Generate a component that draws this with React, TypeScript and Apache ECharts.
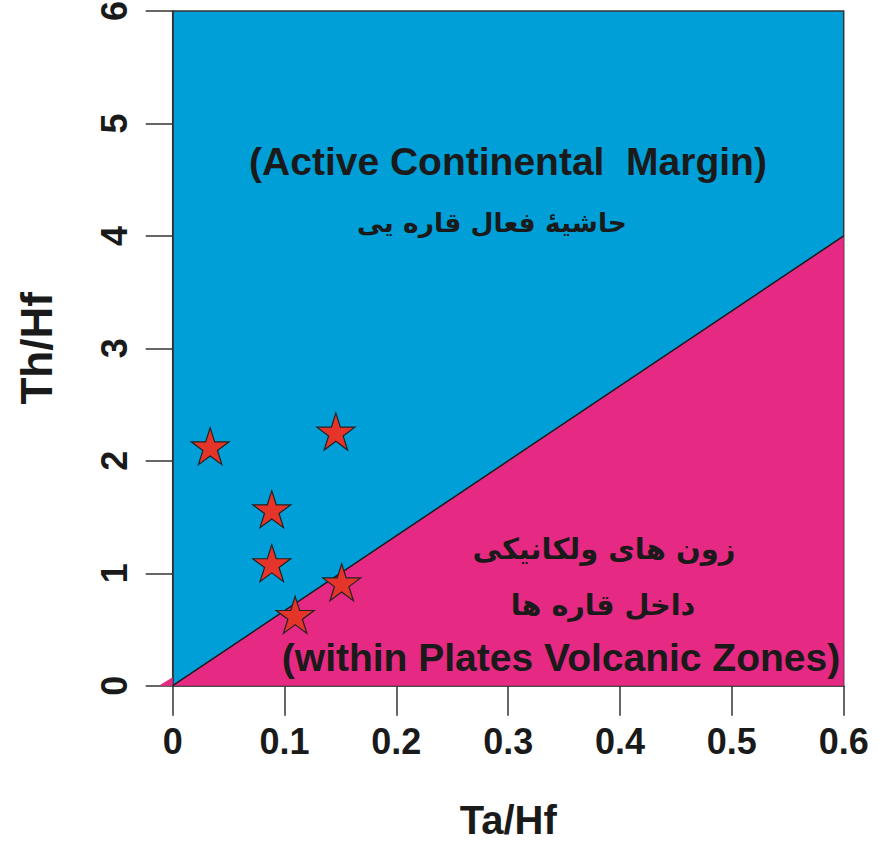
import React, { useEffect, useRef } from "react";
import * as echarts from "echarts";

const xTicks = [0, 0.1, 0.2, 0.3, 0.4, 0.5, 0.6];
const yTicks = [0, 1, 2, 3, 4, 5, 6];
const samplesX = [0.0335, 0.1459, 0.0886, 0.0886, 0.1095, 0.1511];
const samplesY = [2.13, 2.26, 1.57, 1.09, 0.63, 0.92];
const boundaryX = [0, 0.6];
const boundaryY = [0, 4];
const pinkRegion = [
  [-0.0125, 0],
  [0, 0.075],
  [0, 0],
  [0.6, 0],
  [0.6, 4],
  [0, 0],
];

const STAR =
  "path://M50 0 L61.23 34.55 L97.55 34.55 L68.16 55.9 L79.39 90.45 L50 69.1 L20.61 90.45 L31.84 55.9 L2.45 34.55 L38.77 34.55 Z";

const FONT = "'Liberation Sans', Arial, sans-serif";
const AFONT = "'DejaVu Sans', 'Noto Sans', sans-serif";
const INK = "#1a1a1a";

function txt(text: string, x: number, y: number, size: number, family = FONT) {
  return {
    type: "text",
    x,
    y,
    silent: true,
    z: 10,
    style: {
      text,
      fill: INK,
      fontSize: size,
      fontWeight: "bold",
      fontFamily: family,
      align: "center",
      verticalAlign: "middle",
      textAlign: "center",
      textVerticalAlign: "middle",
    },
  };
}

export default function App() {
  const ref = useRef<HTMLDivElement>(null);
  useEffect(() => {
    if (!ref.current) return;
    const chart = echarts.init(ref.current, undefined, { renderer: "svg" });
    chart.setOption({
      animation: false,
      grid: {
        left: 172.7,
        right: 42.3,
        top: 11,
        bottom: 157.3,
        outerBoundsMode: "none",
        containLabel: false,
        show: true,
        backgroundColor: "#009fd8",
        borderColor: "#333",
        borderWidth: 1.5,
      },
      xAxis: {
        type: "value",
        min: 0,
        max: 0.6,
        interval: 0.1,
        name: "Ta/Hf",
        nameLocation: "middle",
        nameGap: 134,
        nameTextStyle: {
          fontSize: 40,
          fontWeight: "bold",
          fontFamily: FONT,
          color: INK,
          verticalAlign: "middle",
          lineHeight: 34,
        },
        axisLine: { onZero: false, lineStyle: { color: "#333", width: 1.5 } },
        axisTick: { show: true, length: 30, lineStyle: { color: "#333", width: 1.5 } },
        axisLabel: {
          margin: 38,
          fontSize: 36,
          fontWeight: "bold",
          fontFamily: FONT,
          color: INK,
          formatter: (v: number) => {
            const i = xTicks.findIndex((t) => Math.abs(t - v) < 1e-9);
            return i >= 0 ? String(xTicks[i]) : "";
          },
        },
        splitLine: { show: false },
      },
      yAxis: {
        type: "value",
        min: 0,
        max: 6,
        interval: 1,
        name: "Th/Hf",
        nameLocation: "middle",
        nameGap: 114,
        nameRotate: 90,
        nameTextStyle: { fontSize: 44, fontWeight: "bold", fontFamily: FONT, color: INK },
        axisLine: { onZero: false, lineStyle: { color: "#333", width: 1.5 } },
        axisTick: { show: true, length: 27, lineStyle: { color: "#333", width: 1.5 } },
        axisLabel: {
          margin: 40,
          rotate: 90,
          fontSize: 36,
          fontWeight: "bold",
          fontFamily: FONT,
          color: INK,
          formatter: (v: number) => {
            const i = yTicks.findIndex((t) => Math.abs(t - v) < 1e-9);
            return i >= 0 ? String(yTicks[i]) : "";
          },
        },
        splitLine: { show: false },
      },
      series: [
        {
          type: "custom",
          clip: false,
          z: 1,
          silent: true,
          data: [0],
          renderItem: (params: any, api: any) => {
            const pts = pinkRegion.map((p) => api.coord(p));
            return {
              type: "polygon",
              shape: { points: pts },
              style: { fill: "#e62983", stroke: "none" },
            };
          },
        },
        {
          type: "line",
          z: 2,
          silent: true,
          symbol: "none",
          data: boundaryX.map((x, i) => [x, boundaryY[i]]),
          lineStyle: { color: "#1a1a1a", width: 1.5 },
        },
        {
          type: "scatter",
          z: 5,
          symbol: STAR,
          symbolSize: [38, 37],
          data: samplesX.map((x, i) => [x, samplesY[i]]),
          itemStyle: { color: "#e5352b", borderColor: "#222", borderWidth: 1.2, opacity: 1 },
        },
      ],
      graphic: [
        txt("(Active Continental  Margin)", 508, 161, 39),
        txt("حاشیۀ فعال قاره یی", 492, 222, 26.5, AFONT),
        txt("زون های ولکانیکی", 604, 549, 29, AFONT),
        txt("داخل قاره ها", 603, 605, 28.7, AFONT),
        txt("(within Plates Volcanic Zones)", 561, 657, 39),
      ],
    });
    return () => chart.dispose();
  }, []);
  return (
    <div
      ref={ref}
      style={{ position: "absolute", left: 0, top: 0, width: 886, height: 843, background: "#fff" }}
    />
  );
}
